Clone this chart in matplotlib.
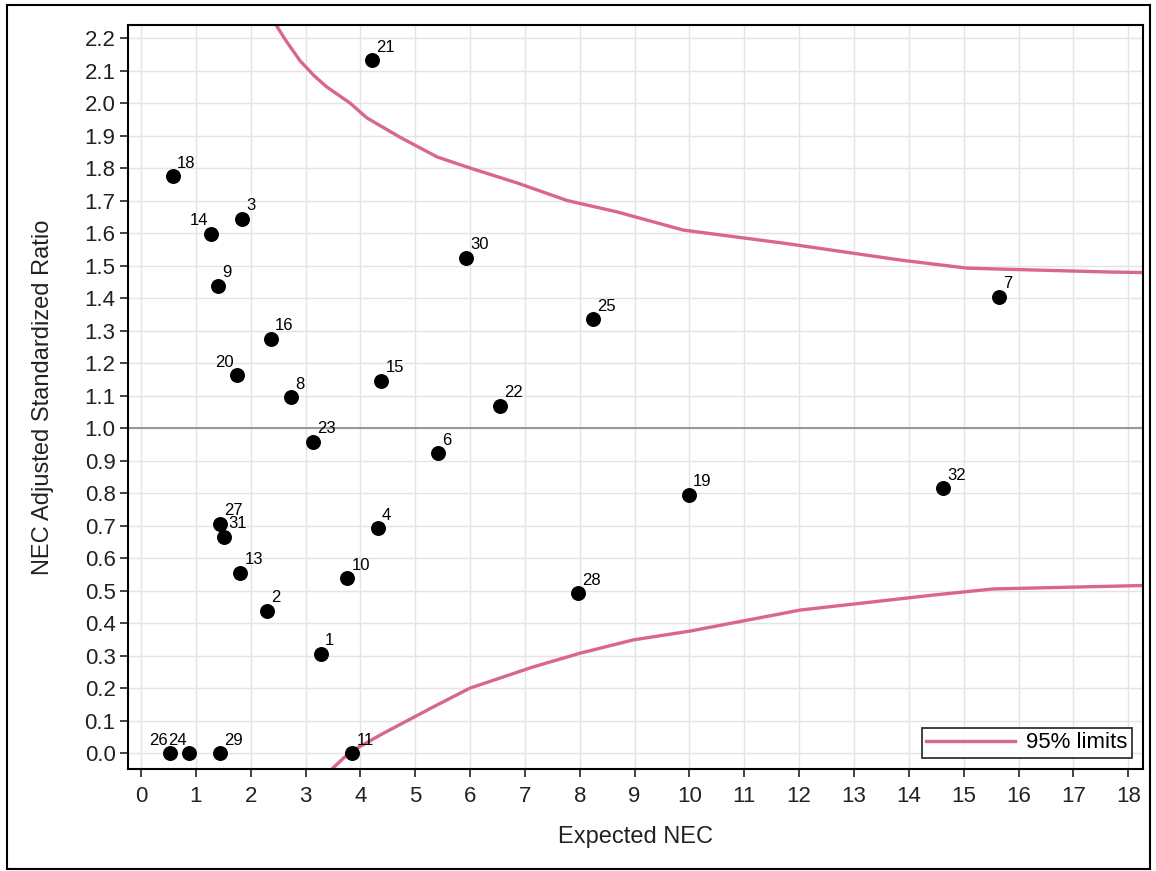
import matplotlib
matplotlib.use("Agg")
import matplotlib.pyplot as plt
from matplotlib.patches import Rectangle

plt.rcParams['font.family'] = ['Liberation Sans', 'DejaVu Sans']

# ---- data ----
ids = [18, 14, 3, 9, 16, 20, 8, 15, 23, 6, 27, 31, 13, 4, 10, 2, 1,
       21, 30, 25, 22, 7, 19, 32, 28, 26, 24, 29, 11]
expected = [0.58, 1.28, 1.84, 1.40, 2.37, 1.75, 2.74, 4.38, 3.14, 5.42,
            1.44, 1.51, 1.81, 4.32, 3.76, 2.30, 3.28,
            4.21, 5.93, 8.24, 6.55, 15.65, 9.99, 14.63, 7.97,
            0.53, 0.88, 1.44, 3.85]
ratio = [1.775, 1.597, 1.643, 1.437, 1.274, 1.163, 1.095, 1.145, 0.957, 0.923,
         0.705, 0.665, 0.554, 0.692, 0.538, 0.437, 0.305,
         2.132, 1.523, 1.335, 1.068, 1.403, 0.794, 0.815, 0.492,
         0.0, 0.0, 0.0, 0.0]
left_labels = [14, 20, 26, 24]

upper_x = [2.40, 2.50, 2.65, 2.90, 3.15, 3.39, 3.81, 4.12, 4.72, 5.40, 6.00,
           6.86, 7.77, 8.68, 9.89, 11.71, 13.84, 15.06, 15.67, 17.67, 18.40]
upper_y = [2.26, 2.23, 2.19, 2.13, 2.085, 2.049, 2.00, 1.954, 1.895, 1.834,
           1.800, 1.754, 1.700, 1.665, 1.609, 1.569, 1.517, 1.492, 1.489,
           1.480, 1.478]
lower_x = [3.40, 3.50, 3.81, 4.41, 5.33, 6.00, 7.15, 8.00, 8.97, 10.0,
           12.02, 14.44, 15.54, 18.40]
lower_y = [-0.07, -0.046, 0.003, 0.06, 0.142, 0.200, 0.265, 0.307, 0.348,
           0.375, 0.44, 0.486, 0.505, 0.516]

x_ticks = list(range(0, 19))
y_ticks = [i / 10 for i in range(0, 23)]

limit_color = '#d9668f'

# ---- figure ----
W, H = 1156, 871
fig = plt.figure(figsize=(W / 100, H / 100), dpi=100)
ax = fig.add_axes([128 / W, 1 - 769 / H, (1143 - 128) / W, (769 - 25) / H])

ax.set_xlim(-0.237, 18.27)
ax.set_ylim(-0.049, 2.24)
ax.set_xticks(x_ticks)
ax.set_yticks(y_ticks)
ax.set_yticklabels([f"{v:.1f}" for v in y_ticks])
ax.grid(True, color='#e4e4e4', lw=1.0, zorder=0)
ax.set_axisbelow(True)

ax.axhline(1.0, color='#999999', lw=1.5, zorder=1)

ax.plot(upper_x, upper_y, color=limit_color, lw=2.4, zorder=2,
        label='95% limits')
ax.plot(lower_x, lower_y, color=limit_color, lw=2.4, zorder=2)

ax.scatter(expected, ratio, s=95, color='black', zorder=4, clip_on=False)
for i, xv, yv in zip(ids, expected, ratio):
    if i in left_labels:
        ax.annotate(str(i), (xv, yv), xytext=(-2, 4), textcoords='offset points',
                    ha='right', va='bottom', fontsize=12, zorder=5)
    else:
        ax.annotate(str(i), (xv, yv), xytext=(3, 4), textcoords='offset points',
                    ha='left', va='bottom', fontsize=12, zorder=5)

for s in ax.spines.values():
    s.set_color('black')
    s.set_linewidth(1.5)
ax.tick_params(axis='both', direction='out', length=6, width=1.3,
               labelsize=16, color='#333333', labelcolor='#222222')
ax.tick_params(axis='x', pad=6)
ax.tick_params(axis='y', pad=3)

ax.set_xlabel('Expected NEC', fontsize=17, color='#222222', labelpad=14)
ax.set_ylabel('NEC Adjusted Standardized Ratio', fontsize=17, color='#222222',
              labelpad=22)

leg = ax.legend(loc='lower right', fontsize=16, frameon=True, fancybox=False,
                handlelength=4.0, borderaxespad=0.5, borderpad=0.2,
                handletextpad=0.5)
leg.get_frame().set_edgecolor('black')
leg.get_frame().set_linewidth(1.3)

fig.patches.append(Rectangle((7 / W, 2 / H), (1150 - 7) / W, (866 - 2) / H,
                             transform=fig.transFigure, fill=False,
                             edgecolor='black', lw=1.5))

fig.savefig('out.png', dpi=100)
